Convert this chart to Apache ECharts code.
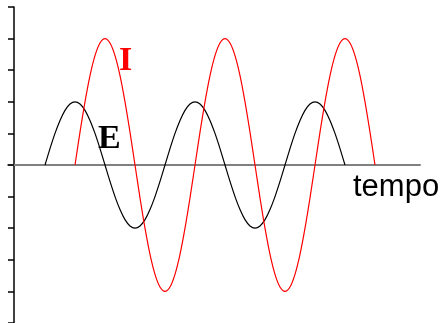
<!DOCTYPE html>
<html>
<head>
<meta charset="utf-8">
<script src="https://cdn.jsdelivr.net/npm/echarts@6/dist/echarts.min.js"></script>
<style>
  html, body { margin: 0; padding: 0; background: #fff; }
  #chart { width: 446px; height: 323px; }
</style>
</head>
<body>
<div id="chart"></div>
<script>
// tension E (black), read every 5 time units
const eTime = [31, 36, 41, 46, 51, 56, 61, 66, 71, 76, 81, 86, 91, 96, 101, 106, 111, 116, 121, 126,
  131, 136, 141, 146, 151, 156, 161, 166, 171, 176, 181, 186, 191, 196, 201, 206, 211, 216, 221, 226,
  231, 236, 241, 246, 251, 256, 261, 266, 271, 276, 281, 286, 291, 296, 301, 306, 311, 316, 321, 326, 331]
const eValues = [0, 0.52, 1, 1.41, 1.73, 1.93, 2, 1.93, 1.73, 1.41, 1, 0.52,
  0, -0.52, -1, -1.41, -1.73, -1.93, -2, -1.93, -1.73, -1.41, -1, -0.52,
  0, 0.52, 1, 1.41, 1.73, 1.93, 2, 1.93, 1.73, 1.41, 1, 0.52,
  0, -0.52, -1, -1.41, -1.73, -1.93, -2, -1.93, -1.73, -1.41, -1, -0.52,
  0, 0.52, 1, 1.41, 1.73, 1.93, 2, 1.93, 1.73, 1.41, 1, 0.52, 0]

// current I (red), lagging a quarter period
const iTime = [61, 66, 71, 76, 81, 86, 91, 96, 101, 106, 111, 116, 121, 126, 131, 136, 141, 146, 151, 156,
  161, 166, 171, 176, 181, 186, 191, 196, 201, 206, 211, 216, 221, 226, 231, 236, 241, 246, 251, 256,
  261, 266, 271, 276, 281, 286, 291, 296, 301, 306, 311, 316, 321, 326, 331, 336, 341, 346, 351, 356, 361]
const iValues = [0, 1.04, 2, 2.83, 3.46, 3.86, 4, 3.86, 3.46, 2.83, 2, 1.04,
  0, -1.04, -2, -2.83, -3.46, -3.86, -4, -3.86, -3.46, -2.83, -2, -1.04,
  0, 1.04, 2, 2.83, 3.46, 3.86, 4, 3.86, 3.46, 2.83, 2, 1.04,
  0, -1.04, -2, -2.83, -3.46, -3.86, -4, -3.86, -3.46, -2.83, -2, -1.04,
  0, 1.04, 2, 2.83, 3.46, 3.86, 4, 3.86, 3.46, 2.83, 2, 1.04, 0]

const zip = (xs, ys) => xs.map((x, i) => [x, ys[i]])

const myChart = echarts.init(document.getElementById('chart'))
myChart.setOption({
  animation: false,
  grid: { left: 8, right: 26, top: 7, bottom: 0 },
  xAxis: {
    type: 'value',
    min: -6,
    max: 406,
    axisLine: { onZero: true, lineStyle: { color: '#808080', width: 2 } },
    axisTick: { show: false },
    axisLabel: { show: false },
    splitLine: { show: false }
  },
  yAxis: {
    type: 'value',
    min: -5,
    max: 5,
    interval: 1,
    axisLine: { show: true, onZero: true, lineStyle: { color: '#000', width: 1.5 } },
    axisTick: { show: true, length: 6, lineStyle: { color: '#000', width: 1.5 } },
    axisLabel: { show: false },
    splitLine: { show: false }
  },
  series: [
    {
      name: 'E',
      type: 'line',
      data: zip(eTime, eValues),
      smooth: 0.3,
      showSymbol: false,
      lineStyle: { color: '#000', width: 1.2 }
    },
    {
      name: 'I',
      type: 'line',
      data: zip(iTime, iValues),
      smooth: 0.3,
      showSymbol: false,
      lineStyle: { color: '#ff0000', width: 1.2 }
    }
  ],
  graphic: [
    {
      type: 'text', left: 119, top: 44,
      style: { text: 'I', font: 'bold 34px "Liberation Serif"', fill: '#ff0000' }
    },
    {
      type: 'text', left: 98, top: 122,
      style: { text: 'E', font: 'bold 34px "Liberation Serif"', fill: '#000' }
    },
    {
      type: 'text', left: 353, top: 172,
      style: { text: 'tempo', font: '31px "Liberation Sans"', fill: '#000' }
    }
  ]
})
</script>
</body>
</html>
